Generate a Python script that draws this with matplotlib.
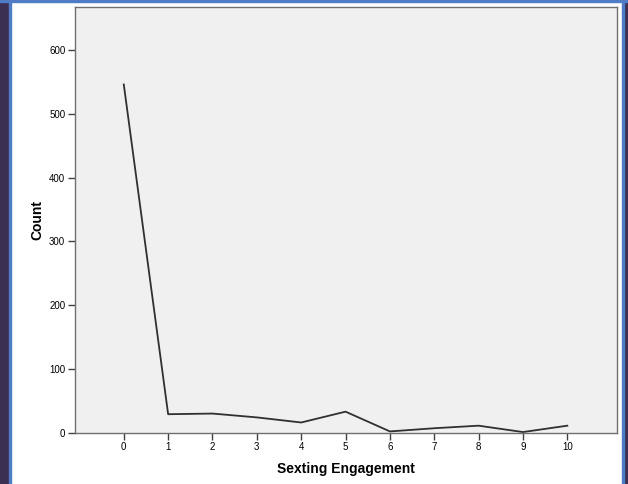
import matplotlib
matplotlib.use("Agg")
import matplotlib.pyplot as plt
from matplotlib.patches import Rectangle

plt.rcParams['font.family'] = ['Liberation Sans', 'DejaVu Sans']

engagement = [0, 1, 2, 3, 4, 5, 6, 7, 8, 9, 10]
counts = [546, 29, 30, 24, 16, 33, 2, 7, 11, 1, 11]
y_ticks = [0, 100, 200, 300, 400, 500, 600]

fig = plt.figure(figsize=(6.28, 4.84), dpi=100)
fig.patch.set_facecolor('white')

# window border from the screenshot
W, H = 628, 484
def px_rect(x0, y0, w, h, color):
    fig.patches.append(Rectangle((x0 / W, 1 - (y0 + h) / H), w / W, h / H,
                                 transform=fig.transFigure, color=color, zorder=0))
px_rect(0, 0, 9, H, '#3b2f52')
px_rect(9, 0, 2, H, '#4f7cc4')
px_rect(624, 0, 4, H, '#3b2f52')
px_rect(622, 0, 2, H, '#4f7cc4')
px_rect(0, 0, W, 2, '#4f7cc4')

ax = fig.add_axes([75 / W, 1 - 432.7 / H, (617 - 75) / W, (432.7 - 6.7) / H])
ax.set_facecolor('#f0f0f0')
ax.plot(engagement, counts, color='#303030', linewidth=1.3)

ax.set_xlim(-1.1, 11.12)
ax.set_ylim(0, 668)
ax.set_xticks(engagement)
ax.set_yticks(y_ticks)
ax.tick_params(direction='out', length=5, width=1, colors='#404040',
               labelcolor='black', labelsize=7, pad=2)

for s in ax.spines.values():
    s.set_color('#707070')
    s.set_linewidth(1)

ax.set_xlabel('Sexting Engagement', fontsize=10, fontweight='bold', labelpad=7)
ax.set_ylabel('Count', fontsize=10, fontweight='bold', labelpad=3)

fig.savefig('out.png', dpi=100)
